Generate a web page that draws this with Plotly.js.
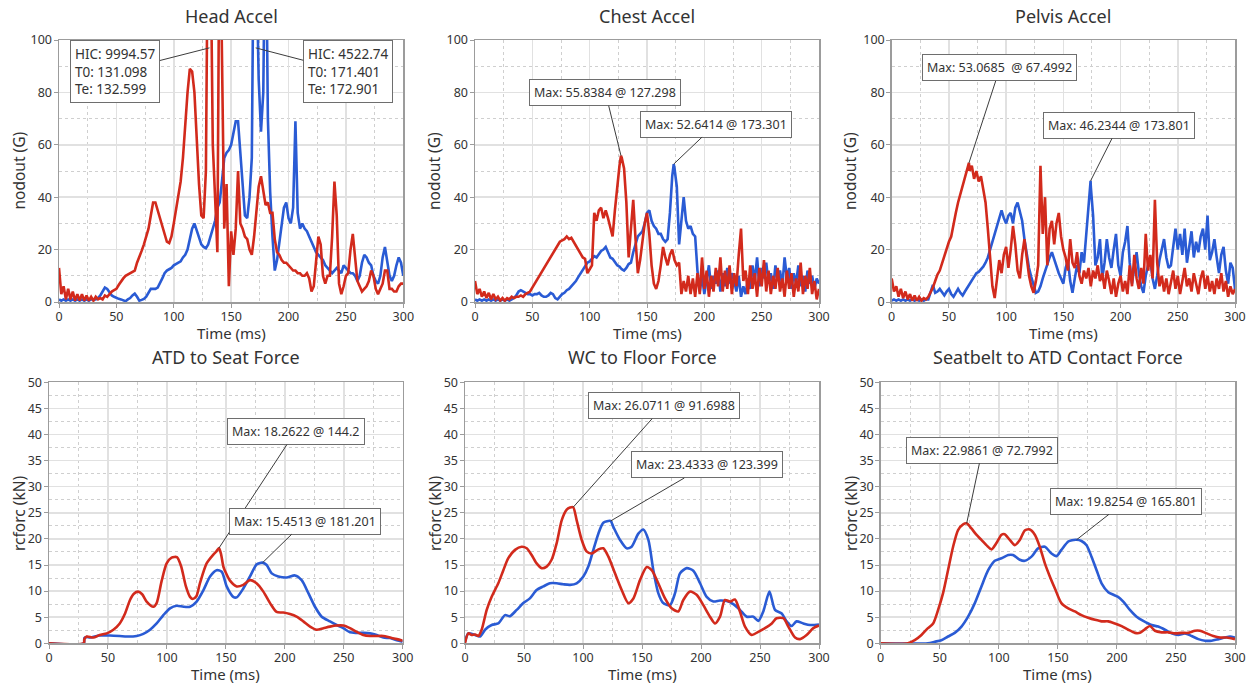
<!DOCTYPE html>
<html>
<head>
<meta charset="utf-8">
<script src="https://cdn.plot.ly/plotly-3.0.1.min.js"></script>
<style>
  html, body { margin: 0; padding: 0; background: #fff; }
  #chart { width: 1253px; height: 683px; }
</style>
</head>
<body>
<div id="chart"></div>
<script>
// ---------------------------------------------------------------------------
// Sled test results: accelerations (nodout, G) and contact forces (rcforc, kN)
// Blue and red are the two test configurations.
// ---------------------------------------------------------------------------

// Acceleration channels, sampled every 2 ms from 0 to 300 ms (151 samples)
const ACCEL_STEP_MS = 2;

const headAccelBlue = [
  1, 0.5, 1, 0.5, 1, 0.5, 1, 0.5, 1, 0.5,
  1, 0.5, 1, 0.5, 1, 1, 1, 1.5, 2.5, 4,
  5.5, 5, 3.5, 2.5, 2, 1.5, 1.2, 1, 0.5, 0.3,
  1, 1.5, 2.5, 3.2, 2, 0.5, 0.8, 1.2, 2, 3.5,
  5, 5, 5, 5.5, 7, 9, 11, 12, 12.5, 13,
  14, 14.5, 15, 15.5, 17, 18, 20, 24, 28, 30,
  27, 24, 22, 21, 20.5, 22, 25, 28, 31, 36,
  38, 46, 55, 57, 58, 60, 64, 69, 69, 58,
  44, 33, 32, 40, 55, 160, 130, 85, 65, 80,
  160, 70, 42, 25, 12, 16, 22, 30, 36, 38,
  32, 30, 36, 69, 34, 28, 30, 28, 27, 25,
  23, 21, 19, 18, 17, 16, 14, 13, 12, 11,
  12, 13, 12, 11, 14, 13, 12, 11, 11, 10,
  8, 10, 15, 18, 17, 15, 14, 10, 8, 7,
  10, 17, 21, 16, 10, 8, 10, 14, 17, 15,
  10
];
const headAccelRed = [
  13, 3, 6, 1, 5, 1, 4, 0.5, 3, 0.5,
  3, 0.5, 2.5, 0.5, 2, 0.5, 2, 1, 1.5, 1,
  2.5, 2, 3, 4, 4.5, 5, 6.5, 8, 9, 10,
  10.5, 11, 11.5, 12, 15, 17, 19.5, 22, 25, 28,
  33, 38, 38, 35, 31, 28, 25, 23, 22.5, 25,
  30, 35, 41, 46, 55, 68, 80, 89, 88, 80,
  62, 45, 33, 32, 50, 160, 140, 60, 40, 19,
  160, 85, 28, 45, 6, 27, 18, 28, 50, 30,
  28, 25, 24, 20, 18, 25, 36, 44, 48, 42,
  37, 38, 34, 34, 24, 19, 18, 16, 15, 15,
  14, 13, 12, 12, 11, 11, 10, 10, 11, 9,
  4, 6, 16, 25, 22, 10, 7, 10, 10, 25,
  46, 33, 7, 3, 6, 10, 11, 20, 26, 18,
  8, 6, 4, 5, 6, 8, 12, 10, 5, 3,
  5, 7, 12, 12, 5, 5, 4, 4, 6, 7,
  7
];
const headHicBlue = { hic: 4522.74, t0: 171.401, te: 172.901 };
const headHicRed = { hic: 9994.57, t0: 131.098, te: 132.599 };

const chestAccelBlue = [
  1, 0.5, 1, 0.5, 1, 0.5, 1, 0.5, 1, 0.5,
  1, 0.5, 1, 0.5, 1, 0.5, 1, 1.5, 2.5, 4,
  4.5, 4, 3.5, 3, 3, 2.5, 3, 3, 3.5, 2.5,
  2, 2, 2.5, 3.5, 3, 1.5, 1, 2, 3, 3.5,
  4.5, 5, 6, 7, 8, 9.5, 11, 12, 14, 15,
  15.5, 16.5, 17.5, 17, 18.5, 19.5, 20, 21, 19, 17,
  16.5, 15, 14, 13.5, 12.5, 12, 13, 14.5, 15, 19,
  22, 25, 26, 27, 30, 34, 35, 31, 29, 28,
  26, 26, 24, 23, 24, 34, 48, 51, 44, 22,
  30, 40, 31, 28, 29, 26, 25, 12, 4, 10,
  3, 9, 14, 5, 10, 7, 12, 4, 11, 6,
  13, 7, 11, 8, 4, 10, 2, 6, 3, 9,
  5, 14, 8, 17, 6, 13, 9, 15, 7, 11,
  5, 14, 8, 12, 6, 17, 9, 13, 5, 11,
  7, 14, 6, 10, 4, 12, 7, 10, 5, 9,
  7
];
const chestAccelRed = [
  8, 3, 5, 2, 4, 1.5, 3.5, 1, 3, 1,
  2, 0.5, 1.5, 0.5, 1.5, 1, 2, 1.5, 2, 2,
  2.5, 2, 3, 3.5, 4, 5.5, 7, 8.5, 10, 11.5,
  12.5, 14, 15.5, 17.5, 19, 20.5, 22, 23, 23.5, 24,
  25, 24, 24.5, 23, 21.5, 19.5, 18.5, 17, 16.5, 11,
  12.5, 14, 34, 31, 35, 36, 32, 35, 32, 29,
  25, 35, 45, 52, 55, 51, 38, 17, 28, 39,
  24, 11, 16, 22, 30, 34, 26, 14, 7, 5,
  8, 14, 21, 17, 14, 18, 20, 16, 14, 15,
  3, 8, 4, 10, 3, 9, 2, 11, 3, 17,
  5, 12, 2, 10, 4, 13, 6, 17, 4, 12,
  5, 14, 3, 11, 6, 18, 28, 8, 12, 3,
  14, 5, 11, 2, 13, 6, 16, 4, 12, 3,
  10, 5, 13, 4, 9, 2, 12, 5, 11, 2,
  9, 4, 15, 3, 10, 5, 13, 3, 8, 1,
  5
];
const chestPeakBlue = { t: 173.301, v: 52.6414 };
const chestPeakRed = { t: 127.298, v: 55.8384 };

const pelvisAccelBlue = [
  0.5, 1, 0.5, 1, 0.5, 1, 0.5, 1, 0.5, 1,
  0.5, 1, 0.5, 1, 0.5, 1, 1, 4, 6.5, 3.5,
  4, 5, 3.5, 2.5, 4, 5, 3, 2, 3.5, 5,
  3.5, 2.5, 4, 5.5, 7, 8.5, 10, 11, 11.5, 12.5,
  13.5, 15, 17, 20, 23, 26, 29, 32, 35, 32,
  30, 33, 34, 30, 36, 38, 35, 31, 24, 18,
  13, 9.5, 6, 3.5, 4, 6, 9, 12, 15, 17,
  19, 16, 13, 11, 9, 7, 13, 16, 8, 3.5,
  9, 14, 11, 19, 15, 27, 36, 44, 33, 14,
  17, 24, 9, 15, 24, 17, 13, 20, 26, 14,
  10, 19, 23, 29, 15, 7, 13, 19, 11, 6,
  3.5, 10, 14, 16, 9, 5, 10, 16, 20, 24,
  17, 13, 14, 22, 28, 20, 26, 18, 28, 15,
  21, 27, 17, 23, 19, 25, 28, 20, 33, 16,
  19, 24, 17, 11, 18, 21, 12, 7, 15, 13,
  5
];
const pelvisAccelRed = [
  9, 4, 6, 2, 5, 1.5, 4, 1, 3, 0.5,
  2.5, 0.5, 2, 0.5, 1.5, 1, 2, 3.5, 5.5, 8,
  10.5, 12, 15, 17, 20, 23, 25, 30, 34, 38,
  41, 45, 48, 51, 50, 52, 47, 50, 46, 48,
  43, 38, 28, 15, 6, 1.5, 10, 16, 11, 18,
  21, 13, 20, 29, 22, 12, 9, 18, 24, 17,
  10, 6, 3.5, 8, 14, 52, 26, 40, 14, 28,
  31, 22, 30, 34, 25, 20, 17, 12, 24, 15,
  13, 19, 10, 7, 12, 9, 13, 6, 12, 9,
  14, 8, 11, 5, 12, 8, 3, 9, 2, 7,
  10, 4, 8, 3, 14, 6, 18, 9, 5, 13,
  7, 26, 12, 18, 9, 39, 15, 6, 10, 4,
  9, 3, 8, 12, 5, 10, 3, 8, 13, 6,
  9, 4, 11, 7, 3, 9, 12, 5, 10, 4,
  8, 3, 9, 5, 11, 4, 8, 2, 6, 3,
  5
];
const pelvisPeakBlue = { t: 173.801, v: 46.2344 };
const pelvisPeakRed = { t: 67.4992, v: 53.0685 };

// Contact forces as [time (ms), force (kN)] samples
const seatForceBlue = [
  [0, 0], [29.5, 0], [30, 1], [32, 1.2], [34.8, 1.1], [43, 1.5], [51.7, 1.5], [60, 1.4],
  [66, 1.3], [74.4, 1.4], [80, 1.8], [85.7, 2.6], [91.3, 3.8], [97, 5.4], [102.6, 6.7],
  [108.3, 7.2], [114, 7], [119.6, 7], [125.2, 8], [131, 10.2], [136.6, 12.8], [142.2, 14],
  [146.5, 13.7], [150.7, 10.9], [156.3, 8.9], [159.2, 8.8], [164.8, 10.5], [170.5, 12.8],
  [176, 15.1], [179, 15.4], [181.201, 15.4513], [184.6, 15], [188.9, 13.4], [194.5, 12.8],
  [201.6, 12.6], [208.7, 13], [214.3, 12.1], [220, 9.6], [225.6, 7], [231.3, 5.1],
  [238.3, 4.2], [244, 3.5], [249.6, 2.9], [255.3, 2.1], [261, 2], [266.6, 2], [272.3, 1.9],
  [278, 1.6], [283.6, 1.1], [289.2, 1], [295, 0.6], [300, 0.3]
];
const seatForceRed = [
  [0, 0], [29.5, 0], [30, 0.8], [32, 1.3], [37.6, 1.1], [43, 1.6], [49, 1.9], [54.6, 2.6],
  [60, 3.8], [64.5, 5.7], [68.7, 8.3], [72, 9.5], [75.5, 9.9], [79, 9.4],
  [82.8, 8], [88.5, 7], [91.3, 7.7], [95.6, 12], [99.8, 15.3], [104, 16.4], [108.5, 16.5],
  [112, 14.8], [116, 11], [119.6, 8.9], [122, 8.5], [125, 9],
  [128, 11.5], [133.7, 15.3], [139.4, 17], [142, 17.6], [144.2, 18.2622], [146, 17],
  [147.9, 14.7], [150, 13.5], [153.5, 12], [159.2, 10.9], [164.8, 11.2], [170.5, 12.1],
  [176, 11.5], [181.8, 9.9], [187.5, 7.7], [193, 6], [198.8, 5.9], [204.4, 5.6], [210, 5.1],
  [215.7, 4.2], [221.4, 3.2], [227, 2.6], [232.7, 2.9], [238.3, 3.2], [244, 3.4],
  [249.6, 3.4], [255.3, 2.9], [261, 2.2], [266.6, 1.6], [272.3, 1.4], [278, 1.4],
  [283.6, 1.4], [289.2, 1.1], [295, 0.8], [300, 0.5]
];

const floorForceBlue = [
  [0, 0.3], [2.8, 1.9], [8.5, 1.6], [12.7, 1.3], [17, 2.6], [22.6, 3.5], [28.2, 3.8],
  [33.9, 5.4], [38.1, 5.2], [43.8, 6.4], [49.4, 7.7], [55, 8.6], [60.7, 10.2], [66.4, 10.9],
  [72, 11.5], [77.7, 11.5], [83.3, 11.3], [89, 11.2], [94.6, 11.5], [100.3, 12.8],
  [104.5, 14.7], [108.8, 17.9], [113, 21], [117.2, 23.1], [123.399, 23.4333], [125.7, 22.3],
  [131.4, 19.8], [137, 18.2], [141.2, 18.5], [146.9, 21], [151.1, 21.8], [155.4, 19.8],
  [159.6, 14], [163.8, 9.6], [168, 7.7], [173.7, 7.3], [178, 9.6], [182.2, 13.4],
  [187.9, 14.4], [193.5, 13.9], [199.2, 11.5], [204.8, 8.9], [210.5, 8], [216.1, 8.2],
  [221.8, 8.1], [227.4, 7.5], [233, 6.4], [238.7, 5.1], [244.4, 5.1], [248.6, 4.3],
  [252.8, 6.1], [258, 9.9], [262.7, 6.4], [268.4, 5.7], [272.6, 4.2], [276.8, 3.3],
  [281, 4.2], [286.7, 3.8], [292.4, 3.5], [300, 3.6]
];
const floorForceRed = [
  [0, 0], [2.8, 1.9], [5.6, 1.6], [8.5, 1.7], [11.3, 1.4], [14.1, 2.6], [18.4, 6.4],
  [22.6, 8.9], [28.2, 11.5], [32.5, 14], [36.7, 16.3], [42.4, 17.9], [48, 18.5],
  [52.3, 18.2], [56.5, 16.9], [60.7, 15.3], [65, 14.4], [69.2, 14.7], [73.4, 16],
  [77.7, 19.2], [82, 23.6], [86.2, 25.6], [89, 26], [91.6988, 26.0711], [94.6, 23.6],
  [98.9, 19.8], [103, 17.6], [107.3, 17.2], [113, 18], [117.2, 18.2], [121.5, 16.6],
  [127.1, 13.4], [132.8, 10.2], [138.4, 7.7], [142.7, 8.6], [148.3, 12.1], [154, 14.6],
  [158.2, 14], [163.8, 11.5], [169.5, 8.6], [175.1, 6.7], [180.8, 6.1], [185, 8.3],
  [190.7, 9.9], [196.3, 9.3], [202, 7.3], [207.6, 5.1], [211.9, 3.8], [216.1, 5.1],
  [220.3, 8.3], [224.6, 8], [228.8, 8.4], [233, 6.1], [237.3, 3.2], [243, 1.6],
  [248.6, 2.2], [254.2, 2.9], [260, 3.8], [264, 4.8], [269.8, 4.8], [274, 3.2],
  [279.7, 1.1], [283.9, 0.8], [289.5, 1.6], [295.2, 2.9], [300, 3.4]
];

const beltForceBlue = [
  [0, 0], [40, 0], [45.8, 0.3], [51.4, 0.6], [57, 1.3], [62.7, 2], [68.4, 3.2], [74, 5.1],
  [79.7, 7.7], [85.3, 10.9], [91, 14], [96.6, 15.8], [102.3, 16.3], [108, 16.9], [112, 16.9],
  [117.8, 16], [122, 15.8], [127.7, 16.6], [133.3, 18.2], [139, 18.5], [144.6, 17.2],
  [148.9, 16.7], [153, 17.9], [158.8, 19.5], [162, 19.75], [165.801, 19.8254], [170, 19.6],
  [174.3, 18.8], [178.5, 16.6], [182.8, 14], [187, 11.5], [192.7, 9.8], [197, 9.3],
  [201, 8.9], [205.4, 8], [211, 6.4], [216.7, 5.1], [222.3, 4.3], [229.4, 3.5], [235, 3.2],
  [240.7, 2.6], [246.3, 1.9], [252, 1.6], [257.6, 1.9], [263.3, 1.4], [269, 0.8],
  [274.6, 0.5], [280.2, 0.5], [286, 0.8], [291.5, 1.1], [295.8, 1.3], [300, 1.1]
];
const beltForceRed = [
  [0, 0], [23, 0], [28.8, 0.6], [34.5, 1.6], [40, 2.9], [44.4, 3.8], [48.6, 6.4],
  [52.8, 9.6], [57, 14], [61.3, 18.5], [65.5, 21.7], [69.8, 22.8], [72.7992, 22.9861],
  [76.8, 22], [81, 20.8], [85.3, 19.8], [89.5, 18.8], [93.8, 18], [98, 19.2], [102.3, 20.8],
  [105, 20.9], [109.3, 19.8], [113.6, 18.8], [117.8, 19.8], [122, 21.6], [126.3, 21.8],
  [130.5, 20.8], [134.7, 18.5], [139, 15.3], [143.2, 12.8], [147.5, 10.5], [153, 7.7],
  [158.8, 6.7], [164.4, 6.1], [170, 5.4], [175.7, 4.9], [181.4, 4.5], [187, 4.2],
  [192.7, 4.2], [198.3, 3.8], [204, 3.3], [209.6, 2.6], [215.3, 2], [219.5, 2], [223.7, 2.7],
  [228, 3.3], [232.2, 2.4], [237.9, 2.1], [243.5, 2.1], [249.2, 1.9], [254.8, 2],
  [260.5, 2], [266, 2.4], [270.3, 2.4], [276, 1.9], [281.6, 1.4], [287.3, 1.1], [293, 1.1],
  [300, 0.8]
];

const panelTitles = ['Head Accel', 'Chest Accel', 'Pelvis Accel',
  'ATD to Seat Force', 'WC to Floor Force', 'Seatbelt to ATD Contact Force'];
const accelAxisTitle = 'nodout (G)';
const forceAxisTitle = 'rcforc (kN)';
const timeAxisTitle = 'Time (ms)';

// ---------------------------------------------------------------------------
const FONT = 'Noto Sans, Open Sans, DejaVu Sans, sans-serif';
const TEXT = '#333333';
const BLUE = '#2a5bd4';
const RED = '#d22a1c';
const W = 1253, H = 683;

// sampled channel -> {x, y}, with the reported peak sample merged in
function sampled(values, peak) {
  const pts = values.map((v, i) => [i * ACCEL_STEP_MS, v]);
  if (peak) pts.push([peak.t, peak.v]);
  pts.sort((a, b) => a[0] - b[0]);
  return { x: pts.map(p => p[0]), y: pts.map(p => p[1]) };
}
function pairs(list) {
  return { x: list.map(p => p[0]), y: list.map(p => p[1]) };
}
function peakOf(list) {
  let best = list[0];
  list.forEach(p => { if (p[1] > best[1]) best = p; });
  return { t: best[0], v: best[1] };
}

// panel frames in pixels: [left, right] and [top, bottom]
const cols = {
  top: [[59, 403.3], [475, 819], [891.7, 1235]],
  bottom: [[49, 402.7], [465, 819], [880.7, 1235]]
};
const rowsPx = { top: [40, 302], bottom: [382.3, 643.3] };
const yTitleLeftPx = { top: [18.5, 434, 850], bottom: [19, 435, 851] };
const px2x = v => v / W;
const px2y = v => 1 - v / H;

function lineTrace(d, color, n, shape) {
  return {
    type: 'scatter', mode: 'lines', x: d.x, y: d.y,
    xaxis: n === 1 ? 'x' : 'x' + n, yaxis: n === 1 ? 'y' : 'y' + n,
    line: { color: color, width: 2.6, shape: shape || 'linear', smoothing: 0.7 },
    hoverinfo: 'skip'
  };
}

const data = [
  lineTrace(sampled(headAccelBlue), BLUE, 1),
  lineTrace(sampled(headAccelRed), RED, 1),
  lineTrace(sampled(chestAccelBlue, chestPeakBlue), BLUE, 2),
  lineTrace(sampled(chestAccelRed, chestPeakRed), RED, 2),
  lineTrace(sampled(pelvisAccelBlue, pelvisPeakBlue), BLUE, 3),
  lineTrace(sampled(pelvisAccelRed, pelvisPeakRed), RED, 3),
  lineTrace(pairs(seatForceBlue), BLUE, 4, 'spline'),
  lineTrace(pairs(seatForceRed), RED, 4, 'spline'),
  lineTrace(pairs(floorForceBlue), BLUE, 5, 'spline'),
  lineTrace(pairs(floorForceRed), RED, 5, 'spline'),
  lineTrace(pairs(beltForceBlue), BLUE, 6, 'spline'),
  lineTrace(pairs(beltForceRed), RED, 6, 'spline')
];

const axisCommon = {
  showline: true, mirror: true, linecolor: '#9c9c9c', linewidth: 1.5,
  ticks: 'outside', ticklen: 4, tickcolor: '#9c9c9c',
  showgrid: true, gridcolor: '#e1e1e1', gridwidth: 1.5, zeroline: false,
  tickfont: { family: FONT, size: 12.5, color: TEXT }, fixedrange: true
};
function xAxis(px, anchor) {
  return Object.assign({}, axisCommon, {
    domain: [px2x(px[0]), px2x(px[1])], range: [0, 300], dtick: 50, tick0: 0, anchor: anchor,
    ticklabelstandoff: -2,
    minor: { dtick: 25, showgrid: true, griddash: 'dot', gridcolor: '#cfcfcf', gridwidth: 1 }
  });
}
function yAxis(rowPx, max, step, anchor) {
  return Object.assign({}, axisCommon, {
    domain: [px2y(rowPx[1]), px2y(rowPx[0])], range: [0, max], dtick: step, tick0: 0,
    anchor: anchor, ticklabelstandoff: -1,
    minor: { dtick: step / 2, showgrid: true, griddash: 'dot', gridcolor: '#cfcfcf', gridwidth: 1 }
  });
}

const layout = {
  width: W, height: H, margin: { l: 0, r: 0, t: 0, b: 0 },
  paper_bgcolor: '#ffffff', plot_bgcolor: '#ffffff', showlegend: false,
  font: { family: FONT, color: TEXT },
  xaxis: xAxis(cols.top[0], 'y'),
  xaxis2: xAxis(cols.top[1], 'y2'),
  xaxis3: xAxis(cols.top[2], 'y3'),
  xaxis4: xAxis(cols.bottom[0], 'y4'),
  xaxis5: xAxis(cols.bottom[1], 'y5'),
  xaxis6: xAxis(cols.bottom[2], 'y6'),
  yaxis: yAxis(rowsPx.top, 100, 20, 'x'),
  yaxis2: yAxis(rowsPx.top, 100, 20, 'x2'),
  yaxis3: yAxis(rowsPx.top, 100, 20, 'x3'),
  yaxis4: yAxis(rowsPx.bottom, 50, 5, 'x4'),
  yaxis5: yAxis(rowsPx.bottom, 50, 5, 'x5'),
  yaxis6: yAxis(rowsPx.bottom, 50, 5, 'x6'),
  annotations: []
};

// panel titles and axis titles
const panelCols = cols.top.concat(cols.bottom);
panelCols.forEach((c, i) => {
  const top = i < 3;
  const mid = (c[0] + c[1]) / 2;
  layout.annotations.push({
    xref: 'paper', yref: 'paper', x: px2x(mid), y: px2y(top ? 16 : 357),
    xanchor: 'center', yanchor: 'middle', showarrow: false,
    text: panelTitles[i], font: { family: FONT, size: 18, color: TEXT }
  });
  layout.annotations.push({
    xref: 'paper', yref: 'paper', x: px2x(mid), y: px2y(top ? 333 : 674),
    xanchor: 'center', yanchor: 'middle', showarrow: false,
    text: timeAxisTitle, font: { family: FONT, size: 15, color: TEXT }
  });
  layout.annotations.push({
    xref: 'paper', yref: 'paper',
    x: px2x(top ? yTitleLeftPx.top[i] : yTitleLeftPx.bottom[i - 3]),
    y: px2y(top ? 171 : 513), textangle: -90,
    xanchor: 'center', yanchor: 'middle', showarrow: false,
    text: top ? accelAxisTitle : forceAxisTitle, font: { family: FONT, size: 15.5, color: TEXT }
  });
});

// value call-outs
function callout(n, x, y, text, ax, ay, align, size) {
  return {
    xref: n === 1 ? 'x' : 'x' + n, yref: n === 1 ? 'y' : 'y' + n, x: x, y: y,
    text: text, align: align || 'center',
    showarrow: true, arrowhead: 0, arrowwidth: 1, arrowcolor: '#3c3c3c', standoff: 0,
    ax: ax, ay: ay, bgcolor: '#ffffff', bordercolor: '#6e6e6e', borderwidth: 1, borderpad: 4,
    font: { family: FONT, size: size || 12.5, color: TEXT }
  };
}
const maxLabel = (p, gap) => 'Max: ' + p.v + (gap || ' ') + '@ ' + p.t;
const hicLabel = h => 'HIC: ' + h.hic + '<br>T0: ' + h.t0 + '<br>Te: ' + h.te;

layout.annotations.push(
  callout(1, headHicRed.t0, 97, hicLabel(headHicRed), -94, 24, 'left', 13.5),
  callout(1, headHicBlue.t0, 97, hicLabel(headHicBlue), 92, 24, 'left', 13.5),
  callout(2, chestPeakRed.t, chestPeakRed.v, maxLabel(chestPeakRed), -15.5, -63),
  callout(2, chestPeakBlue.t, chestPeakBlue.v, maxLabel(chestPeakBlue), 42, -40),
  callout(3, pelvisPeakRed.t, pelvisPeakRed.v, maxLabel(pelvisPeakRed, '\u00a0 '), 31, -95),
  callout(3, pelvisPeakBlue.t, pelvisPeakBlue.v, maxLabel(pelvisPeakBlue), 28, -55.5)
);
[[4, seatForceRed, 76.5, -116.5], [4, seatForceBlue, 42.5, -41.5],
 [5, floorForceRed, 90.5, -101.5], [5, floorForceBlue, 96, -56],
 [6, beltForceRed, 15.5, -73], [6, beltForceBlue, 49, -38.5]].forEach(c => {
  const p = peakOf(c[1]);
  layout.annotations.push(callout(c[0], p.t, p.v, maxLabel(p), c[2], c[3]));
});

Plotly.newPlot('chart', data, layout, { displayModeBar: false, staticPlot: true });
</script>
</body>
</html>
